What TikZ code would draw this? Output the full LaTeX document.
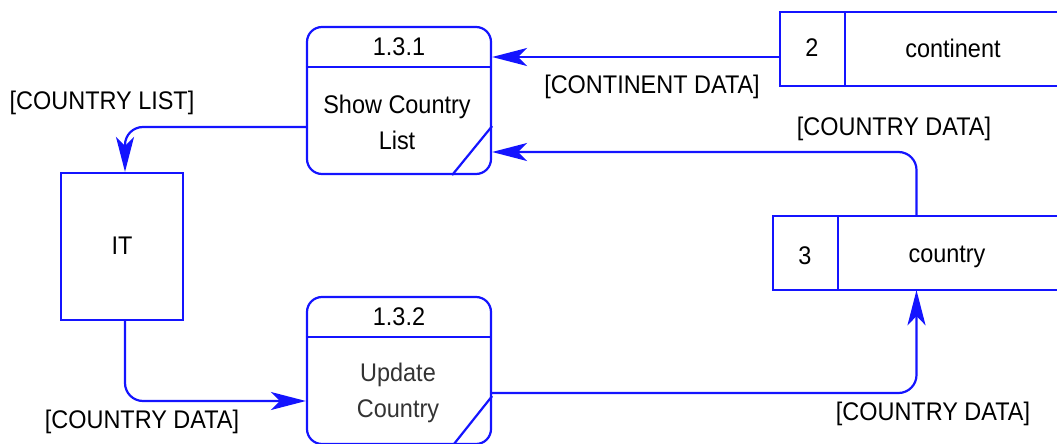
\documentclass[tikz,border=0pt]{standalone}
\usepackage{fontspec}
\setmainfont[FakeStretch=0.92]{Liberation Sans}
\usetikzlibrary{arrows.meta}
\definecolor{dfdblue}{RGB}{20,20,255}
\tikzset{
  lbl/.style={font=\fontsize{25.5}{36}\selectfont, text=black, inner sep=0pt},
  proc/.style={draw=dfdblue, line width=2.2pt, rounded corners=15pt, minimum width=184pt, minimum height=147pt, inner sep=0pt},
  ent/.style={draw=dfdblue, line width=2.2pt, minimum width=122pt, minimum height=147pt, inner sep=0pt},
  region/.style={draw=none, inner sep=0pt},
  edge/.style={draw=dfdblue, line width=2.2pt},
  flow/.style={draw=dfdblue, line width=2.2pt, rounded corners=18pt, -{Stealth[length=35pt, width=18pt, inset=9pt]}},
}
\begin{document}
\begin{tikzpicture}[x=1pt, y=-1pt]
\useasboundingbox (0,0) rectangle (1057,444);

% processes
\node[proc] (p1) at (399,100.5) {};
\node[lbl] (p1id) at (399,47) {1.3.1};
\node[lbl, align=center] (p1txt) at (397,122) {Show Country\\List};
\draw[edge] (p1.west |- 0,67) -- (p1.east |- 0,67);
\draw[edge] ([xshift=-40pt]p1.south east) -- ([yshift=49pt]p1.south east);

\node[proc] (p2) at (399,370.5) {};
\node[lbl] (p2id) at (399,317) {1.3.2};
\node[lbl, align=center, text=black!80] (p2txt) at (398,392.5) {Update\\Country};
\draw[edge] (p2.west |- 0,337) -- (p2.east |- 0,337);
\draw[edge] ([xshift=-39pt]p2.south east) -- ([yshift=49pt]p2.south east);

% external entity
\node[ent] (it) at (122,246.5) {};
\node[lbl] (ittxt) at (122,246) {IT};

% data stores (open on the right)
\node[region, minimum width=280pt, minimum height=74pt] (st2) at (920,49) {};
\draw[edge] ([xshift=10pt]st2.north east) -- (st2.north west) -- (st2.south west) -- ([xshift=10pt]st2.south east);
\draw[edge] (845,12) -- (845,86);
\node[lbl] (st2id) at (812,48) {2};
\node[lbl] (st2txt) at (953,48) {continent};

\node[region, minimum width=287pt, minimum height=74pt] (st3) at (916.5,253) {};
\draw[edge] ([xshift=10pt]st3.north east) -- (st3.north west) -- (st3.south west) -- ([xshift=10pt]st3.south east);
\draw[edge] (838,216) -- (838,290);
\node[lbl] (st3id) at (805,256) {3};
\node[lbl] (st3txt) at (947,257) {country};

% flows
\draw[flow] ([yshift=-8pt]st2.west) coordinate (c1) -- (c1 -| p1.east);
\draw[flow] (st3.north) |- ([yshift=-51.5pt]p1.east);
\draw[flow] ([yshift=-26.5pt]p1.west) -| ([xshift=3pt]it.north);
\draw[flow] ([xshift=3pt]it.south) |- ([yshift=-30.5pt]p2.west);
\draw[flow] ([yshift=-22.5pt]p2.east) -| (st3.south);

% flow labels
\node[lbl] (l1) at (652,87) {[CONTINENT DATA]};
\node[lbl] (l2) at (894,129) {[COUNTRY DATA]};
\node[lbl] (l3) at (102,103) {[COUNTRY LIST]};
\node[lbl] (l4) at (142,422) {[COUNTRY DATA]};
\node[lbl] (l5) at (933,414) {[COUNTRY DATA]};
\end{tikzpicture}
\end{document}
